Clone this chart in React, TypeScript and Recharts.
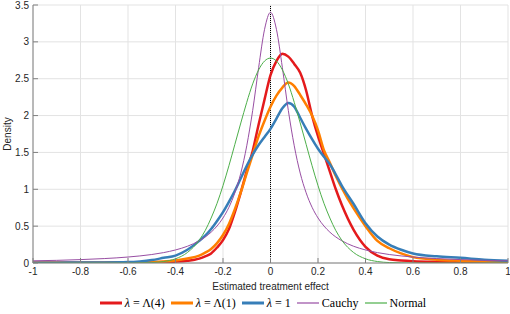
import React from 'react';
import {
  LineChart,
  Line,
  XAxis,
  YAxis,
  CartesianGrid,
  Legend,
  ReferenceLine,
} from 'recharts';

const xs = [
  -1, -0.9, -0.8, -0.7, -0.6, -0.55, -0.5, -0.45, -0.4, -0.35,
  -0.3, -0.275, -0.25, -0.225, -0.2, -0.175, -0.15, -0.125, -0.1, -0.075, -0.05, -0.025,
  0, 0.025, 0.05, 0.075, 0.1, 0.125, 0.15, 0.175, 0.2, 0.225, 0.25, 0.275, 0.3,
  0.35, 0.4, 0.45, 0.5, 0.55, 0.6, 0.7, 0.8, 0.9, 1,
];

const lambda4 = [
  0.004, 0.004, 0.004, 0.005, 0.006, 0.007, 0.009, 0.012, 0.018, 0.03,
  0.06, 0.09, 0.13, 0.21, 0.31, 0.46, 0.69, 0.96, 1.25, 1.52, 1.88, 2.22,
  2.55, 2.74, 2.84, 2.8, 2.7, 2.58, 2.34, 2.0, 1.72, 1.48, 1.24, 1.0, 0.79,
  0.45, 0.22, 0.1, 0.05, 0.035, 0.025, 0.015, 0.01, 0.007, 0.005,
];

const lambda1 = [
  0.003, 0.003, 0.004, 0.005, 0.007, 0.01, 0.014, 0.02, 0.034, 0.06,
  0.1, 0.14, 0.19, 0.27, 0.38, 0.53, 0.73, 0.96, 1.22, 1.47, 1.72, 1.93,
  2.12, 2.27, 2.38, 2.45, 2.4, 2.28, 2.15, 2.0, 1.8, 1.53, 1.36, 1.18, 1.02,
  0.74, 0.5, 0.3, 0.2, 0.13, 0.08, 0.045, 0.03, 0.02, 0.012,
];

const lambdaOne = [
  0.005, 0.005, 0.006, 0.007, 0.012, 0.022, 0.04, 0.07, 0.1, 0.18,
  0.3, 0.37, 0.46, 0.57, 0.69, 0.83, 0.98, 1.15, 1.32, 1.47, 1.6, 1.71,
  1.82, 1.96, 2.1, 2.17, 2.12, 1.97, 1.82, 1.68, 1.55, 1.44, 1.34, 1.2, 1.05,
  0.8, 0.54, 0.36, 0.25, 0.18, 0.13, 0.09, 0.07, 0.045, 0.03,
];

const cauchy = [
  0.03, 0.036, 0.046, 0.06, 0.081, 0.096, 0.115, 0.141, 0.177, 0.227,
  0.302, 0.353, 0.418, 0.502, 0.611, 0.756, 0.953, 1.22, 1.59, 2.07, 2.65, 3.17,
  3.4, 3.17, 2.65, 2.07, 1.59, 1.22, 0.953, 0.756, 0.611, 0.502, 0.418, 0.353, 0.302,
  0.227, 0.177, 0.141, 0.115, 0.096, 0.081, 0.06, 0.046, 0.036, 0.03,
];

const normal = [
  0, 0, 0, 0, 0, 0.002, 0.006, 0.02, 0.057, 0.142,
  0.31, 0.44, 0.61, 0.81, 1.05, 1.32, 1.61, 1.9, 2.18, 2.43, 2.62, 2.74,
  2.78, 2.74, 2.62, 2.43, 2.18, 1.9, 1.61, 1.32, 1.05, 0.81, 0.61, 0.44, 0.31,
  0.142, 0.057, 0.02, 0.006, 0.002, 0, 0, 0, 0, 0,
];

const xTicks = [-1, -0.8, -0.6, -0.4, -0.2, 0, 0.2, 0.4, 0.6, 0.8, 1];
const yTicks = [0, 0.5, 1, 1.5, 2, 2.5, 3, 3.5];

const series = [
  { key: 'l4', label: 'Λ(4)', lam: true, color: '#e41a1c', width: 2.5 },
  { key: 'l1', label: 'Λ(1)', lam: true, color: '#ff7f00', width: 2.5 },
  { key: 'lone', label: '1', lam: true, color: '#377eb8', width: 2.5 },
  { key: 'cauchy', label: 'Cauchy', lam: false, color: '#984ea3', width: 1 },
  { key: 'normal', label: 'Normal', lam: false, color: '#4daf4a', width: 1 },
];

const data = xs.map((x, i) => ({
  x,
  l4: lambda4[i],
  l1: lambda1[i],
  lone: lambdaOne[i],
  cauchy: cauchy[i],
  normal: normal[i],
}));

const sans = '"Liberation Sans", Arial, sans-serif';
const serif = '"Liberation Serif", "Times New Roman", serif';
const axisColor = '#808080';
const tickStyle = { fontSize: 10, fill: '#262626', fontFamily: sans };

const YLabel = ({ viewBox }: any) => {
  const cy = viewBox.y + viewBox.height / 2;
  return (
    <text
      x={7}
      y={cy}
      transform={`rotate(-90, 7, ${cy})`}
      textAnchor="middle"
      dominantBaseline="central"
      fontSize={10}
      fontFamily={sans}
      fill="#262626"
    >
      Density
    </text>
  );
};

const XLabel = ({ viewBox }: any) => (
  <text
    x={viewBox.x + viewBox.width / 2}
    y={286}
    textAnchor="middle"
    dominantBaseline="central"
    fontSize={10}
    fontFamily={sans}
    fill="#262626"
  >
    Estimated treatment effect
  </text>
);

const LegendBox = () => (
  <div
    style={{
      display: 'flex',
      justifyContent: 'center',
      alignItems: 'center',
      height: 23,
      paddingTop: 1,
      boxSizing: 'border-box',
      fontFamily: serif,
      fontWeight: 'normal',
      fontSize: 12,
      color: '#000',
      marginLeft: 24,
    }}
  >
    {series.map((s) => (
      <div key={s.key} style={{ display: 'flex', alignItems: 'center', marginRight: 6 }}>
        <svg width={22} height={4} style={{ marginRight: 3 }}>
          <line x1={0} y1={2} x2={22} y2={2} stroke={s.color} strokeWidth={s.width > 1 ? 3 : 1.2} />
        </svg>
        <span style={{ whiteSpace: 'nowrap' }}>
          {s.lam ? (
            <>
              <i>λ</i> = {s.label}
            </>
          ) : (
            s.label
          )}
        </span>
      </div>
    ))}
  </div>
);

export default function App() {
  return (
    <div style={{ position: 'absolute', left: 0, top: 0, background: '#fff' }}>
      <LineChart width={510} height={314} data={data} margin={{ top: 5, right: 2, bottom: 0, left: 0 }}>
        <CartesianGrid stroke="#e3e3e3" strokeWidth={1} />
        <XAxis
          dataKey="x"
          type="number"
          domain={[-1, 1]}
          ticks={xTicks}
          interval={0}
          allowDataOverflow
          height={28}
          tick={tickStyle}
          tickSize={-5}
          tickMargin={10}
          stroke={axisColor}
          label={<XLabel />}
        />
        <XAxis
          xAxisId="top"
          orientation="top"
          type="number"
          domain={[-1, 1]}
          ticks={xTicks}
          interval={0}
          allowDataOverflow
          height={0}
          tick={false}
          tickSize={-5}
          stroke={axisColor}
        />
        <YAxis
          type="number"
          domain={[0, 3.5]}
          ticks={yTicks}
          interval={0}
          allowDataOverflow
          width={33}
          tick={tickStyle}
          tickSize={-5}
          tickMargin={9}
          stroke={axisColor}
          label={<YLabel />}
        />
        <YAxis
          yAxisId="right"
          orientation="right"
          type="number"
          domain={[0, 3.5]}
          ticks={yTicks}
          interval={0}
          allowDataOverflow
          width={0}
          tick={false}
          tickSize={-5}
          stroke={axisColor}
        />
        <ReferenceLine x={0} stroke="#000" strokeWidth={1} strokeDasharray="1 1" />
        {series.map((s) => (
          <Line
            key={s.key}
            type="monotone"
            dataKey={s.key}
            stroke={s.color}
            strokeWidth={s.width}
            dot={false}
            isAnimationActive={false}
          />
        ))}
        <Legend verticalAlign="bottom" height={23} content={<LegendBox />} />
      </LineChart>
    </div>
  );
}
